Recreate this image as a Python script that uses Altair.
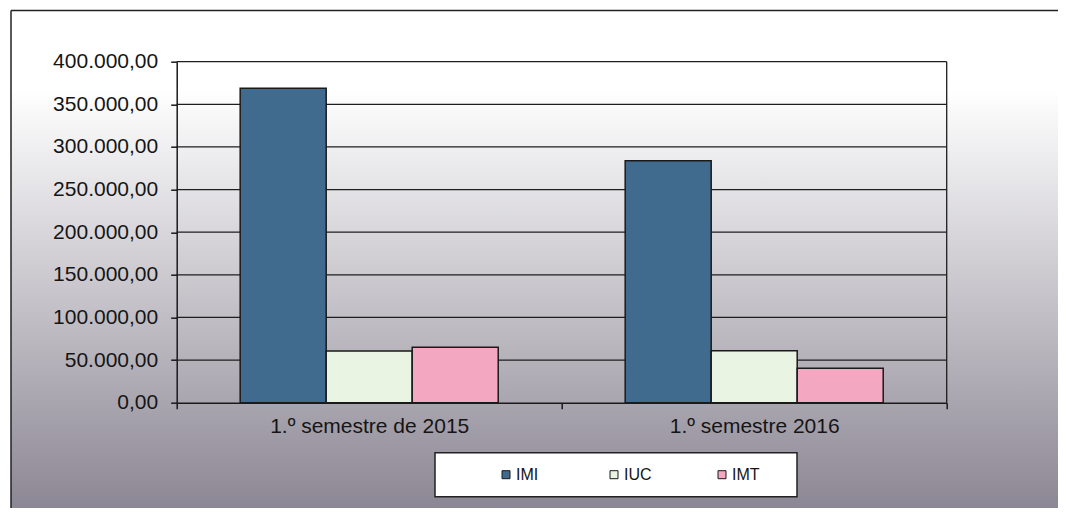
import altair as alt
import pandas as pd

categories = ["1.º semestre de 2015", "1.º semestre 2016"]
series = ["IMI", "IUC", "IMT"]
imi = [368800, 283900]
iuc = [60600, 61000]
imt = [65000, 40300]
y_ticks = [0, 50000, 100000, 150000, 200000, 250000, 300000, 350000, 400000]
colors = ["#406b8e", "#e9f4e3", "#f4a7c1"]

rows = []
for i, c in enumerate(categories):
    for s, vals in zip(series, [imi, iuc, imt]):
        rows.append({"periodo": c, "serie": s, "valor": vals[i]})
df = pd.DataFrame(rows)
grid_df = pd.DataFrame({"v": y_ticks[1:]})
one = pd.DataFrame({"k": [0]})

W, H = 770, 341
PL, PT = 168.7, 53.7
TOTW, TOTH = 1050, 500
PR = TOTW - PL - W
PB = TOTH - PT - H
FONT = "Liberation Sans"

ydom = alt.Scale(domain=[0, 400000], nice=False, zero=True)

bg = alt.Chart(one).mark_rect(
    fill=alt.Gradient(
        gradient="linear", x1=0, y1=0, x2=0, y2=1,
        stops=[
            alt.GradientStop(offset=0, color="#ffffff"),
            alt.GradientStop(offset=0.16, color="#ffffff"),
            alt.GradientStop(offset=1, color="#8c8794"),
        ],
    )
).encode(
    x=alt.value(-165.7), x2=alt.value(TOTW - PL),
    y=alt.value(-51.2), y2=alt.value(TOTH - PT),
)

frame_top = alt.Chart(one).mark_rule(color="#222222", strokeWidth=1.5).encode(
    x=alt.value(-165.7), x2=alt.value(TOTW - PL), y=alt.value(-51.2)
)
frame_left = alt.Chart(one).mark_rule(color="#222222", strokeWidth=1.5).encode(
    x=alt.value(-165.7), y=alt.value(-51.2), y2=alt.value(TOTH - PT)
)

legend_box = alt.Chart(one).mark_rect(
    fill="white", stroke="#222222", strokeWidth=1.5
).encode(
    x=alt.value(258.3), x2=alt.value(620.3), y=alt.value(391), y2=alt.value(435)
)

grid = alt.Chart(grid_df).mark_rule(color="#1e1e1e", strokeWidth=1.3).encode(
    y=alt.Y("v:Q", scale=ydom)
)

right_border = alt.Chart(one).mark_rule(color="#1e1e1e", strokeWidth=1.3).encode(
    x=alt.value(W), y=alt.value(0), y2=alt.value(H)
)

bars = alt.Chart(df).mark_bar(stroke="#1a1a1a", strokeWidth=1.5).encode(
    x=alt.X(
        "periodo:N", sort=categories,
        scale=alt.Scale(paddingInner=0, paddingOuter=0),
        axis=alt.Axis(
            title=None, labelAngle=0, labelFont=FONT, labelFontSize=21,
            labelColor="#151515", labelLimit=400, labelPadding=7,
            tickBand="extent", tickSize=6, tickColor="#1a1a1a", tickWidth=1.5,
            domainColor="#1a1a1a", domainWidth=1.5, grid=False, zindex=2,
        ),
    ),
    xOffset=alt.XOffset(
        "serie:N", sort=series,
        scale=alt.Scale(paddingInner=0, paddingOuter=0.738),
    ),
    y=alt.Y(
        "valor:Q", scale=ydom,
        axis=alt.Axis(
            title=None, values=y_ticks, format=",.2f", labelFont=FONT,
            labelFontSize=21, labelColor="#151515", labelPadding=13,
            tickSize=6, tickColor="#1a1a1a", tickWidth=1.5,
            domainColor="#1a1a1a", domainWidth=1.5, grid=False, zindex=2,
        ),
    ),
    color=alt.Color(
        "serie:N", sort=series,
        scale=alt.Scale(domain=series, range=colors),
        legend=alt.Legend(
            title=None, orient="none", legendX=321.3, legendY=405,
            direction="horizontal", labelFont=FONT, labelFontSize=16,
            labelColor="#151515", symbolType="square", symbolSize=64,
            symbolStrokeColor="#1a1a1a", symbolStrokeWidth=1,
            symbolOpacity=1, gridAlign="all", columnPadding=62,
            labelOffset=2, padding=0,
        ),
    ),
)

chart = alt.layer(
    bg, frame_top, frame_left, legend_box, grid, right_border, bars
).properties(
    width=W, height=H,
    autosize=alt.AutoSizeParams(type="none"),
    padding={"left": PL, "top": PT, "right": PR, "bottom": PB},
).configure(
    background="white",
    locale=alt.Locale(
        number=alt.NumberLocale(
            decimal=",", thousands=".", grouping=[3], currency=["", " €"]
        )
    ),
).configure_view(stroke=None)

chart.save("out.html", embed_options={"renderer": "svg", "actions": False})
